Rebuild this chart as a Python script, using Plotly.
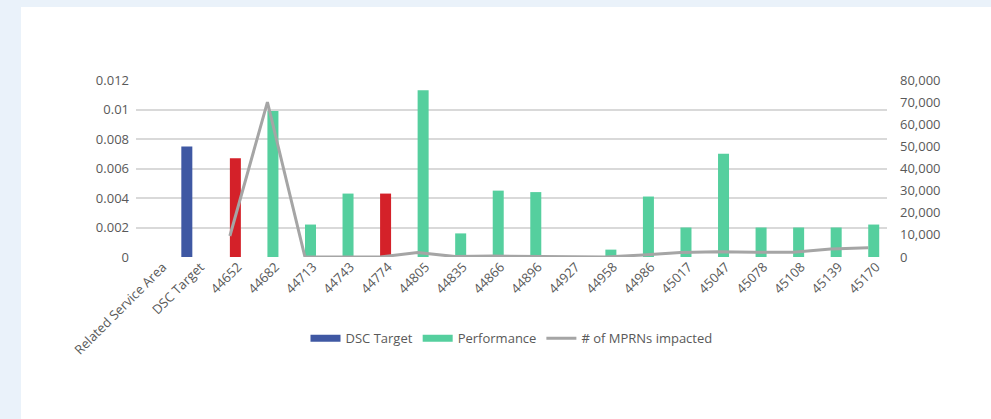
import plotly.graph_objects as go

# Categories along the x axis
categories = ["Related Service Area", "DSC Target", "44652", "44682", "44713", "44743",
              "44774", "44805", "44835", "44866", "44896", "44927", "44958", "44986",
              "45017", "45047", "45078", "45108", "45139", "45170"]

# DSC Target bar (left axis)
dsc_target = [None, 0.0075] + [None] * 18

# Monthly performance (left axis)
performance = [None, None, 0.0067, 0.0099, 0.0022, 0.0043, 0.0043, 0.0113, 0.0016,
               0.0045, 0.0044, 0.0, 0.0005, 0.0041, 0.0020, 0.0070, 0.0020, 0.0020,
               0.0020, 0.0022]

# Number of MPRNs impacted (right axis)
mprns = [None, None, 9500, 70000, 0, 0, 0, 2000, 200, 400, 300, 0, 0, 900,
         2000, 2400, 2100, 2200, 3600, 4200]

# Months highlighted in red
highlighted = ["44652", "44774"]

left_ticks = [0, 0.002, 0.004, 0.006, 0.008, 0.01, 0.012]
left_labels = ["0", "0.002", "0.004", "0.006", "0.008", "0.01", "0.012"]
right_ticks = [0, 10000, 20000, 30000, 40000, 50000, 60000, 70000, 80000]

BLUE = "#3f58a3"
GREEN = "#55cf9e"
RED = "#d42129"
GREY = "#a5a5a5"
TEXT = "#595959"
FONT = "Open Sans"

perf_colors = [RED if c in highlighted else GREEN for c in categories]

fig = go.Figure()
fig.add_trace(go.Bar(x=categories, y=dsc_target, name="DSC Target", showlegend=False,
                     marker=dict(color=BLUE, line=dict(width=0))))
fig.add_trace(go.Bar(x=categories, y=performance, name="Performance", showlegend=False,
                     marker=dict(color=perf_colors, line=dict(width=0))))
fig.add_trace(go.Scatter(x=categories, y=mprns, name="# of MPRNs impacted", yaxis="y2",
                         mode="lines", line=dict(color=GREY, width=3),
                         connectgaps=False, showlegend=False))

# Legend keys drawn as wide flat swatches
for name, color, width in [("DSC Target", BLUE, 7), ("Performance", GREEN, 7),
                           ("# of MPRNs impacted", GREY, 3)]:
    fig.add_trace(go.Scatter(x=[None], y=[None], name=name, mode="lines",
                             line=dict(color=color, width=width), hoverinfo="skip"))

fig.update_layout(
    width=991, height=419,
    margin=dict(l=136, r=104, t=80, b=162),
    paper_bgcolor="#eaf2fa",
    plot_bgcolor="#ffffff",
    font=dict(family=FONT, size=13, color=TEXT),
    barmode="group", bargap=0.414, bargroupgap=0,
    showlegend=True,
    legend=dict(orientation="h", x=0.5, xanchor="center", y=-0.46, yanchor="middle",
                font=dict(family=FONT, size=13, color=TEXT),
                bgcolor="rgba(0,0,0,0)", itemwidth=30, tracegroupgap=0),
    xaxis=dict(type="category", tickangle=-45, showgrid=False, showline=False,
               zeroline=False, ticks="", ticklabelshift=8, ticklabelstandoff=-1,
               tickfont=dict(size=13, color=TEXT)),
    yaxis=dict(range=[0, 0.012], tickvals=left_ticks, ticktext=left_labels,
               showgrid=True, gridcolor="#d9d9d9", gridwidth=1.5, zeroline=False,
               showline=False, ticks="", ticklabelstandoff=6,
               tickfont=dict(size=13, color=TEXT)),
    yaxis2=dict(range=[0, 80000], overlaying="y", side="right", tickvals=right_ticks,
                tickformat=",", showgrid=False, zeroline=False, showline=False,
                ticks="", ticklabelstandoff=12, tickfont=dict(size=13, color=TEXT)),
    shapes=[dict(type="rect", xref="paper", yref="paper", layer="below",
                 x0=(21 - 136) / 751, x1=(1000 - 136) / 751,
                 y0=-1.0, y1=(257 - 7) / 177,
                 fillcolor="#ffffff", line=dict(width=0))],
)

fig.write_html("out.html")
